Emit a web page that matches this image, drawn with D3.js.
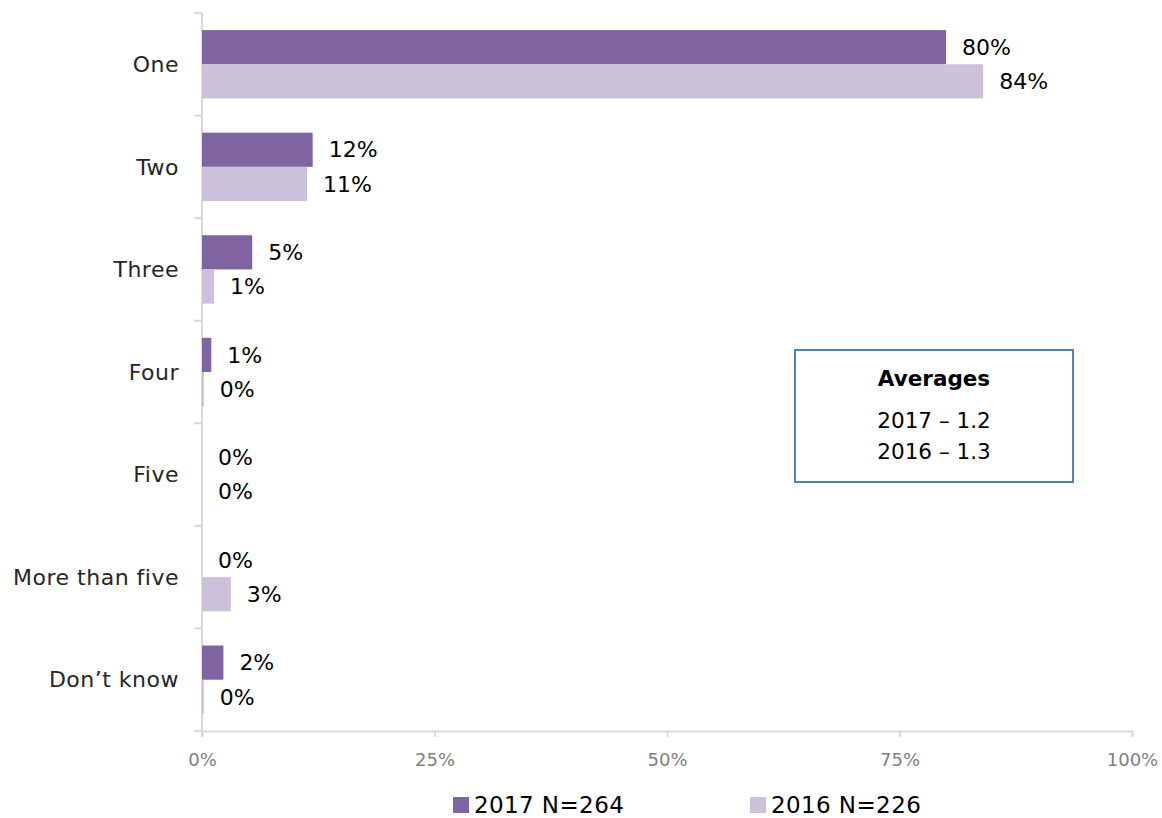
<!DOCTYPE html>
<html>
<head>
<meta charset="utf-8">
<script src="https://cdn.jsdelivr.net/npm/d3@7"></script>
<style>
  body { margin: 0; background: #fff; }
  svg { font-family: "DejaVu Sans", sans-serif; }
</style>
</head>
<body>
<svg id="chart" width="1162" height="818"></svg>
<script>
// Number of items — share of respondents
const categories = ["One", "Two", "Three", "Four", "Five", "More than five", "Don\u2019t know"];
const series = ["2017 N=264", "2016 N=226"];
const values2017 = [80, 11.9, 5.4, 1.0, 0, 0, 2.3];
const values2016 = [84, 11.3, 1.3, 0.2, 0, 3.1, 0.2];
const xTicks = [0, 25, 50, 75, 100];
const colors = ["#8064a2", "#ccc1da"];
const averageTitle = "Averages";
const averageLines = ["2017 \u2013 1.2", "2016 \u2013 1.3"];

const svg = d3.select("#chart");
const plotLeft = 202, plotRight = 1132, plotTop = 13, plotBottom = 731;

const x = d3.scaleLinear().domain([0, 100]).range([plotLeft, plotRight]);
const y = d3.scaleBand().domain(categories).range([plotTop, plotBottom]).paddingInner(0).paddingOuter(0);
const inner = d3.scaleBand().domain(series).range([0, y.bandwidth()]).paddingInner(0).paddingOuter(0.5);

const rows = categories.map((c, i) => ({ cat: c, vals: [values2017[i], values2016[i]] }));

const axisColor = "#d9d9d9";

// category boundary ticks on the vertical axis
const bounds = categories.map(c => y(c)).concat([plotBottom]);
svg.append("g").selectAll("line").data(bounds).join("line")
  .attr("x1", plotLeft - 8).attr("x2", plotLeft)
  .attr("y1", d => d).attr("y2", d => d)
  .attr("stroke", axisColor).attr("stroke-width", 2);
svg.append("line")
  .attr("x1", plotLeft).attr("x2", plotLeft).attr("y1", plotTop).attr("y2", plotBottom + 6)
  .attr("stroke", axisColor).attr("stroke-width", 2);

// horizontal axis
const xAxis = d3.axisBottom(x).tickValues(xTicks).tickFormat(d => d + "%").tickSize(6).tickPadding(16);
const gx = svg.append("g").attr("transform", `translate(0,${plotBottom})`).call(xAxis);
gx.select(".domain").attr("stroke", axisColor).attr("stroke-width", 2);
gx.selectAll(".tick line").attr("stroke", axisColor).attr("stroke-width", 2);
gx.selectAll(".tick text").attr("fill", "#7f7f7f").attr("font-size", 18)
  .attr("font-family", "'DejaVu Sans', sans-serif");

// category labels
svg.append("g").selectAll("text").data(categories).join("text")
  .attr("x", 179).attr("y", d => y(d) + y.bandwidth() / 2)
  .attr("dy", "0.35em").attr("text-anchor", "end")
  .attr("font-size", 22).attr("letter-spacing", 0.5).attr("fill", "#262626")
  .text(d => d);

// bars
const groups = svg.append("g").selectAll("g").data(rows).join("g")
  .attr("transform", d => `translate(0,${y(d.cat)})`);
groups.selectAll("rect").data(d => d.vals.map((v, k) => ({ v, k }))).join("rect")
  .attr("x", x(0))
  .attr("y", d => inner(series[d.k]))
  .attr("width", d => x(d.v) - x(0))
  .attr("height", inner.bandwidth())
  .attr("fill", d => colors[d.k]);

// value labels
groups.selectAll("text").data(d => d.vals.map((v, k) => ({ v, k }))).join("text")
  .attr("x", d => x(d.v) + 16)
  .attr("y", d => inner(series[d.k]) + inner.bandwidth() / 2)
  .attr("dy", "0.35em")
  .attr("font-size", 22).attr("fill", "#000")
  .text(d => Math.round(d.v) + "%");

// averages box
const box = svg.append("g").attr("transform", "translate(795,350)");
box.append("rect").attr("width", 278).attr("height", 132)
  .attr("fill", "#fff").attr("stroke", "#4f81bd").attr("stroke-width", 2);
box.append("text").attr("x", 139).attr("y", 36).attr("text-anchor", "middle")
  .attr("font-size", 21.5).attr("font-weight", "bold").attr("fill", "#000").text(averageTitle);
box.selectAll("text.line").data(averageLines).join("text").attr("class", "line")
  .attr("x", 139).attr("y", (d, i) => 78 + i * 31).attr("text-anchor", "middle")
  .attr("font-size", 21.5).attr("fill", "#000").text(d => d);

// legend
const legendX = [453, 750];
const legend = svg.append("g").selectAll("g").data(series).join("g")
  .attr("transform", (d, i) => `translate(${legendX[i]},797)`);
legend.append("rect").attr("width", 16).attr("height", 16).attr("fill", (d, i) => colors[i]);
legend.append("text").attr("x", 21).attr("y", 8).attr("dy", "0.36em")
  .attr("font-size", 23).attr("letter-spacing", 0.4).attr("fill", "#000").text(d => d);
</script>
</body>
</html>
